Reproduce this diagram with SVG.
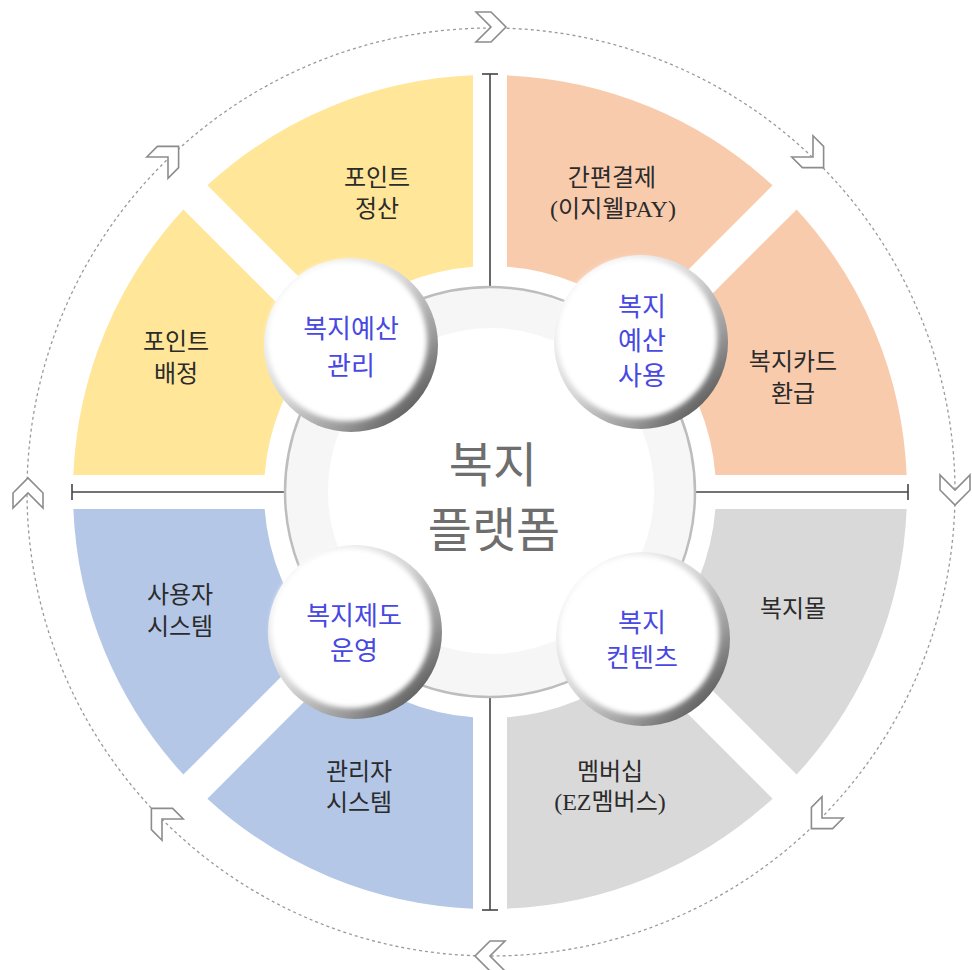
<svg xmlns="http://www.w3.org/2000/svg" width="972" height="970" viewBox="0 0 972 970">
<style>
.lbl{font-family:"Liberation Serif","Noto Sans CJK KR",serif;font-size:24px;fill:#2b2b2b;text-anchor:middle}
.sph{font-family:"Noto Sans CJK KR","Noto Sans",sans-serif;font-size:26px;fill:#4848e2;text-anchor:middle}
.ctr{font-family:"Noto Sans CJK KR","Noto Sans",sans-serif;font-size:48px;fill:#6e6e6e;text-anchor:middle}
.chev{fill:#fff;stroke:#8c8c8c;stroke-width:1.6;stroke-linejoin:miter}
.axis{stroke:#444;stroke-width:1.6;fill:none}
</style>
<defs>
<polygon id="chev" class="chev" points="-15,-15 0,-15 15,0 0,15 -15,15 0,0"/>
<linearGradient id="rim" x1="0.15" y1="0.15" x2="0.85" y2="0.85">
<stop offset="0" stop-color="#f4f4f4"/>
<stop offset="0.45" stop-color="#d6d6d6"/>
<stop offset="0.8" stop-color="#9a9a9a"/>
<stop offset="1" stop-color="#666"/>
</linearGradient>
<filter id="soft" x="-20%" y="-20%" width="140%" height="140%"><feGaussianBlur stdDeviation="2.5"/></filter>
<g id="ball">
<circle r="87" fill="url(#rim)"/>
<circle cx="-4" cy="-4" r="80" fill="#fff" filter="url(#soft)"/>
</g>
</defs>
<rect width="972" height="970" fill="#fff"/>

<g id="cycle">
<circle cx="491" cy="492" r="464" fill="none" stroke="#9a9a9a" stroke-width="1.3" stroke-dasharray="3 3"/>
<use href="#chev" transform="translate(491,27)"/>
<use href="#chev" transform="translate(813,157) rotate(45)"/>
<use href="#chev" transform="translate(955,490) rotate(90)"/>
<use href="#chev" transform="translate(822,818) rotate(135)"/>
<use href="#chev" transform="translate(490,956) rotate(180)"/>
<use href="#chev" transform="translate(162,819) rotate(225)"/>
<use href="#chev" transform="translate(28,493) rotate(270)"/>
<use href="#chev" transform="translate(168,157) rotate(315)"/>
</g>

<g id="sector-point-settle">
<path d="M473,75.35 A417,417 0 0 0 207.40,185.36 L342.67,320.63 A226,226 0 0 1 473,266.64 Z" fill="#ffe699"/>
<text class="lbl" x="377" y="186">포인트</text>
<text class="lbl" x="377" y="217">정산</text>
</g>
<g id="sector-point-assign">
<path d="M183.36,209.40 A417,417 0 0 0 73.35,475 L264.64,475 A226,226 0 0 1 318.63,344.67 Z" fill="#ffe699"/>
<text class="lbl" x="176" y="350">포인트</text>
<text class="lbl" x="176" y="382">배정</text>
</g>
<g id="sector-easy-pay">
<path d="M507,75.35 A417,417 0 0 1 772.60,185.36 L637.33,320.63 A226,226 0 0 0 507,266.64 Z" fill="#f8cbad"/>
<text class="lbl" x="612" y="186">간편결제</text>
<text class="lbl" x="613" y="217">(이지웰PAY)</text>
</g>
<g id="sector-card-refund">
<path d="M796.64,209.40 A417,417 0 0 1 906.65,475 L715.36,475 A226,226 0 0 0 661.37,344.67 Z" fill="#f8cbad"/>
<text class="lbl" x="793" y="370">복지카드</text>
<text class="lbl" x="793" y="402">환급</text>
</g>
<g id="sector-user-system">
<path d="M183.36,774.60 A417,417 0 0 1 73.35,509 L264.64,509 A226,226 0 0 0 318.63,639.33 Z" fill="#b4c7e7"/>
<text class="lbl" x="180" y="603">사용자</text>
<text class="lbl" x="180" y="635">시스템</text>
</g>
<g id="sector-admin-system">
<path d="M473,908.65 A417,417 0 0 1 207.40,798.64 L342.67,663.37 A226,226 0 0 0 473,717.36 Z" fill="#b4c7e7"/>
<text class="lbl" x="359" y="780">관리자</text>
<text class="lbl" x="359" y="811">시스템</text>
</g>
<g id="sector-mall">
<path d="M796.64,774.60 A417,417 0 0 0 906.65,509 L715.36,509 A226,226 0 0 1 661.37,639.33 Z" fill="#d9d9d9"/>
<text class="lbl" x="793" y="617">복지몰</text>
</g>
<g id="sector-membership">
<path d="M507,908.65 A417,417 0 0 0 772.60,798.64 L637.33,663.37 A226,226 0 0 1 507,717.36 Z" fill="#d9d9d9"/>
<text class="lbl" x="610" y="780">멤버십</text>
<text class="lbl" x="610" y="810">(EZ멤버스)</text>
</g>

<g id="connectors">
<line class="axis" x1="490" y1="74" x2="490" y2="910"/>
<line class="axis" x1="482" y1="74" x2="498" y2="74"/>
<line class="axis" x1="482" y1="910" x2="498" y2="910"/>
<line class="axis" x1="72" y1="492" x2="908" y2="492"/>
<line class="axis" x1="72" y1="484" x2="72" y2="500"/>
<line class="axis" x1="908" y1="484" x2="908" y2="500"/>
</g>

<g id="center">
<circle cx="490" cy="492" r="205" fill="#f6f6f6" stroke="#bdbdbd" stroke-width="2.5"/>
<circle cx="491" cy="491" r="163" fill="#fff"/>
<text class="ctr" x="493" y="482">복지</text>
<text class="ctr" x="494" y="547">플랫폼</text>
</g>

<g id="hub-budget-mgmt">
<use href="#ball" transform="translate(351,345)"/>
<text class="sph" x="351" y="338">복지예산</text>
<text class="sph" x="351" y="375">관리</text>
</g>
<g id="hub-budget-use">
<use href="#ball" transform="translate(641,342)"/>
<text class="sph" x="642" y="316">복지</text>
<text class="sph" x="642" y="350">예산</text>
<text class="sph" x="642" y="385">사용</text>
</g>
<g id="hub-operation">
<use href="#ball" transform="translate(355,632)"/>
<text class="sph" x="354" y="625">복지제도</text>
<text class="sph" x="354" y="660">운영</text>
</g>
<g id="hub-contents">
<use href="#ball" transform="translate(643,639)"/>
<text class="sph" x="642" y="632">복지</text>
<text class="sph" x="642" y="667">컨텐츠</text>
</g>
</svg>
